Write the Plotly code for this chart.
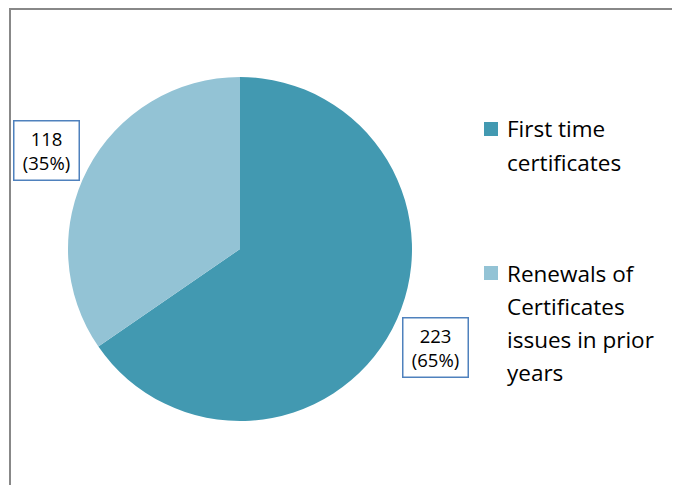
import plotly.graph_objects as go

labels = ["First time certificates", "Renewals of Certificates issues in prior years"]
legend_lines = [["First time", "certificates"], ["Renewals of", "Certificates", "issues in prior", "years"]]
values = [223, 118]
colors = ["#4299B1", "#93C3D5"]

OFF = 8  # default page body margin
W, H = 680 - OFF, 485 - OFF
def px(x): return (x - OFF) / W
def py(y): return 1 - (y - OFF) / H

total = sum(values)
pcts = [round(v * 100 / total) for v in values]

fig = go.Figure(go.Pie(
    values=values, labels=labels, sort=False, direction="clockwise", rotation=0,
    marker=dict(colors=colors, line=dict(width=0)), textinfo="none", hoverinfo="label+value+percent",
    domain=dict(x=[px(68), px(412)], y=[py(421), py(77)]), showlegend=False,
))

font = "'Open Sans', Lato, sans-serif"
ann = []
label_pos = [(435, 347.5), (46.5, 150)]
for (x, y), v, p in zip(label_pos, values, pcts):
    ann.append(dict(x=px(x), y=py(y), xref="paper", yref="paper", text=f"{v}<br>({p}%)",
                    showarrow=False, font=dict(family=font, size=18.5, color="#000"),
                    bordercolor="#4F81BD", borderwidth=1.5, borderpad=1, bgcolor="white",
                    width=62, height=56, xanchor="center", yanchor="middle"))
shapes = []
leg_centers = [129, 273]
for top, lines, c in zip(leg_centers, legend_lines, colors):
    shapes.append(dict(type="rect", xref="paper", yref="paper", x0=px(484), x1=px(498),
                       y0=py(top - 7), y1=py(top + 7), fillcolor=c, line=dict(width=0)))
    for i, ln in enumerate(lines):
        ann.append(dict(x=px(505), y=py(top + i * 33), xref="paper", yref="paper",
                        text=ln, showarrow=False, align="left",
                        xanchor="left", yanchor="middle",
                        font=dict(family=font, size=22.5, color="#000")))
shapes.append(dict(type="path", xref="paper", yref="paper",
                   path=f"M {px(10)} {py(490)} L {px(10)} {py(9)} L {px(690)} {py(9)}",
                   line=dict(color="#888888", width=2)))

fig.update_layout(width=W, height=H, margin=dict(l=0, r=0, t=0, b=0),
                  paper_bgcolor="white", plot_bgcolor="white",
                  annotations=ann, shapes=shapes)
fig.write_html("out.html")
